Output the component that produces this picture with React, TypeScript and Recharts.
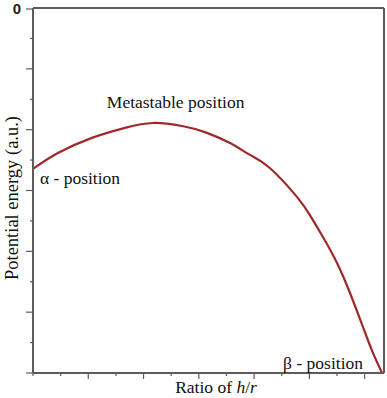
import React from 'react';
import { LineChart, Line, XAxis, YAxis, ReferenceLine, ReferenceDot } from 'recharts';

// values (x: ratio h/r in tick units, y: energy in tick units, 0 at top)
const ratio = [0, 0.9, 2.13, 3.33, 4.34, 5.39, 6.22, 7.13, 7.85, 8.57, 9.55, 10.02, 10.49, 11.0, 11.47, 11.94, 12.3, 12.63];
const energy = [-5.29, -4.77, -4.27, -3.94, -3.78, -3.88, -4.08, -4.44, -4.83, -5.26, -6.21, -6.81, -7.53, -8.38, -9.37, -10.49, -11.34, -12.0];

const xTicks = [0, 1, 2, 3, 4, 5, 6, 7, 8, 9, 10, 11, 12];
const yTicks = [-12, -11, -10, -9, -8, -7, -6, -5, -4, -3, -2, -1, 0];

const noteText = ['Metastable position', 'α - position', 'β - position'];
const noteX = [5.16, 0.25, 9.05];
const noteY = [-3.29, -5.79, -11.87];
const noteAnchor = ['middle', 'start', 'start'];

const data = ratio.map((r, i) => ({ ratio: r, energy: energy[i] }));

const axisColor = '#5c5c5c';
const serif = '"Liberation Serif", "DejaVu Serif", serif';

const YTick = (props: any) => {
  const { x, y, payload } = props;
  const major = payload.value % 2 === 0;
  return (
    <g>
      <line x1={x - (major ? 7 : 3)} x2={x} y1={y} y2={y} stroke={axisColor} strokeWidth={1.2} />
      {payload.value === 0 && (
        <text x={x - 12} y={y + 5} textAnchor="end" fontFamily='"Liberation Sans", Arial, sans-serif' fontWeight="bold" fontSize={15} fill="#222">
          0
        </text>
      )}
    </g>
  );
};

const XTick = (props: any) => {
  const { x, y, payload } = props;
  const major = payload.value % 2 === 0 && payload.value !== 0;
  return <line x1={x} x2={x} y1={y} y2={y + (major ? 6 : 3)} stroke={axisColor} strokeWidth={1.2} />;
};

export default function App() {
  return (
    <div style={{ position: 'fixed', left: 0, top: 0, background: '#fff' }}>
      <LineChart width={387} height={398} data={data} margin={{ top: 8, right: 3, left: 0, bottom: 0 }}>
        <XAxis
          dataKey="ratio"
          type="number"
          domain={[0, 12.7]}
          ticks={xTicks}
          height={25}
          tickSize={0}
          tickMargin={0}
          tick={<XTick />}
          axisLine={{ stroke: axisColor, strokeWidth: 2 }}
          label={() => (
            <text x={216} y={393} textAnchor="middle" fontFamily={serif} fontSize={17.5} fill="#111">
              Ratio of <tspan fontStyle="italic">h</tspan>/<tspan fontStyle="italic">r</tspan>
            </text>
          )}
        />
        <YAxis
          type="number"
          domain={[-12, 0]}
          ticks={yTicks}
          width={33}
          tickSize={0}
          tickMargin={0}
          tick={<YTick />}
          axisLine={{ stroke: axisColor, strokeWidth: 2 }}
          label={() => (
            <text x={18} y={198} transform="rotate(-90 18 198)" textAnchor="middle" fontFamily={serif} fontSize={18.5} fill="#111">
              Potential energy (a.u.)
            </text>
          )}
        />
        <ReferenceLine y={0} stroke={axisColor} strokeWidth={2} />
        <ReferenceLine x={12.7} stroke={axisColor} strokeWidth={2} />
        <Line
          type="natural"
          dataKey="energy"
          stroke="#a0282b"
          strokeWidth={2.2}
          dot={false}
          isAnimationActive={false}
        />
        {noteText.map((t, i) => (
          <ReferenceDot
            key={t}
            x={noteX[i]}
            y={noteY[i]}
            r={1}
            shape={(s: any) => (
              <text x={s.cx} y={s.cy} textAnchor={noteAnchor[i] as any} fontFamily={serif} fontSize={17.5} fill="#111">
                {t}
              </text>
            )}
          />
        ))}
      </LineChart>
    </div>
  );
}
